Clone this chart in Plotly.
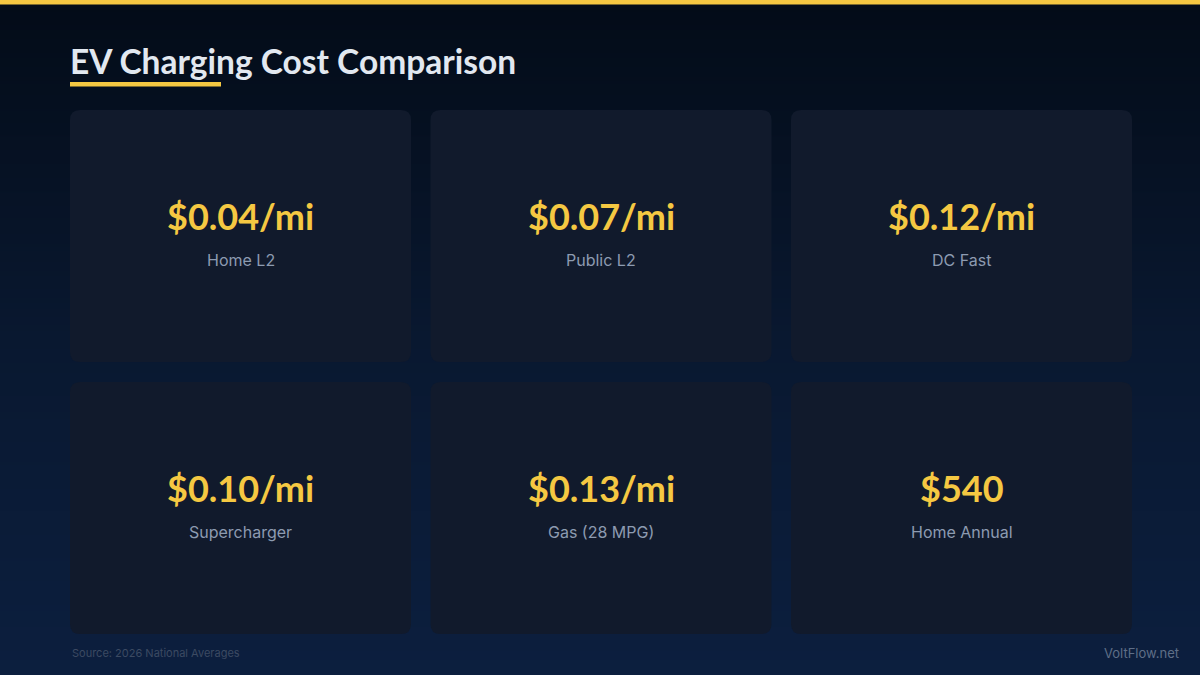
import numpy as np
import plotly.graph_objects as go

# data
values = ["$0.04/mi", "$0.07/mi", "$0.12/mi", "$0.10/mi", "$0.13/mi", "$540"]
labels = ["Home L2", "Public L2", "DC Fast", "Supercharger", "Gas (28 MPG)", "Home Annual"]
TITLE = "EV Charging Cost Comparison"
SOURCE = "Source: 2026 National Averages"
BRAND = "VoltFlow.net"

W, H = 1200, 675
YELLOW = "#f5c842"
CARD = "#111a2c"

# grid
N_COLS = 3
LEFT, TOP = 70, 110
CARD_W, CARD_H = 341, 252
GAP_X, GAP_Y = 19.5, 20
RADIUS = 10

fig = go.Figure()

# background gradient
bg_y = np.linspace(-10, H + 10, 60)
bg_z = [[v, v] for v in np.linspace(0, 1, len(bg_y))]
fig.add_trace(go.Heatmap(
    x=[-10, W + 10], y=bg_y, z=bg_z, zsmooth="best", showscale=False, hoverinfo="skip",
    colorscale=[[0, "#030b17"], [0.5, "#091830"], [1, "#0c1f3f"]],
))


def rounded_rect(x0, y0, x1, y1, r):
    return (f"M{x0 + r},{y0} L{x1 - r},{y0} Q{x1},{y0} {x1},{y0 + r} "
            f"L{x1},{y1 - r} Q{x1},{y1} {x1 - r},{y1} L{x0 + r},{y1} "
            f"Q{x0},{y1} {x0},{y1 - r} L{x0},{y0 + r} Q{x0},{y0} {x0 + r},{y0} Z")


shapes = []
annotations = []

# top bar + title underline
shapes.append(dict(type="rect", xref="x", yref="y", x0=0, x1=W, y0=0, y1=4.5,
                   fillcolor=YELLOW, line_width=0, layer="above"))
shapes.append(dict(type="rect", xref="x", yref="y", x0=70, x1=221, y0=82, y1=86.5,
                   fillcolor=YELLOW, line_width=0, layer="above"))

annotations.append(dict(x=68, y=61, xref="x", yref="y", text=TITLE, showarrow=False,
                        xanchor="left", yanchor="middle",
                        font=dict(family="Lato", size=33.5, color="#e2e8f0", weight=700)))

# cards
for i, (val, lab) in enumerate(zip(values, labels)):
    c, r = i % N_COLS, i // N_COLS
    x0 = LEFT + c * (CARD_W + GAP_X)
    y0 = TOP + r * (CARD_H + GAP_Y)
    x1, y1 = x0 + CARD_W, y0 + CARD_H
    cx = (x0 + x1) / 2
    shapes.append(dict(type="path", xref="x", yref="y", path=rounded_rect(x0, y0, x1, y1, RADIUS),
                       fillcolor=CARD, line_width=0, layer="above"))
    annotations.append(dict(x=cx, y=y0 + 106, xref="x", yref="y", text=val, showarrow=False,
                            xanchor="center", yanchor="middle",
                            font=dict(family="Lato", size=36, color=YELLOW, weight=700)))
    annotations.append(dict(x=cx, y=y0 + 150, xref="x", yref="y", text=lab, showarrow=False,
                            xanchor="center", yanchor="middle",
                            font=dict(family="Inter", size=16, color="#8d9bb1")))

# footer
annotations.append(dict(x=70, y=653, xref="x", yref="y", text=SOURCE, showarrow=False,
                        xanchor="left", yanchor="middle",
                        font=dict(family="Inter", size=11, color="#3c4a62")))
annotations.append(dict(x=1181, y=653, xref="x", yref="y", text=BRAND, showarrow=False,
                        xanchor="right", yanchor="middle",
                        font=dict(family="Inter", size=13, color="#5f6e87")))

fig.update_layout(
    width=W, height=H, margin=dict(l=0, r=0, t=0, b=0),
    paper_bgcolor="#091830", plot_bgcolor="#091830",
    shapes=shapes, annotations=annotations, showlegend=False,
    xaxis=dict(range=[0, W], visible=False, fixedrange=True),
    yaxis=dict(range=[H, 0], visible=False, fixedrange=True),
)

fig.write_html("out.html", config={"displayModeBar": False},
               post_script="document.body.style.margin='0';document.body.style.background='#091830';")
